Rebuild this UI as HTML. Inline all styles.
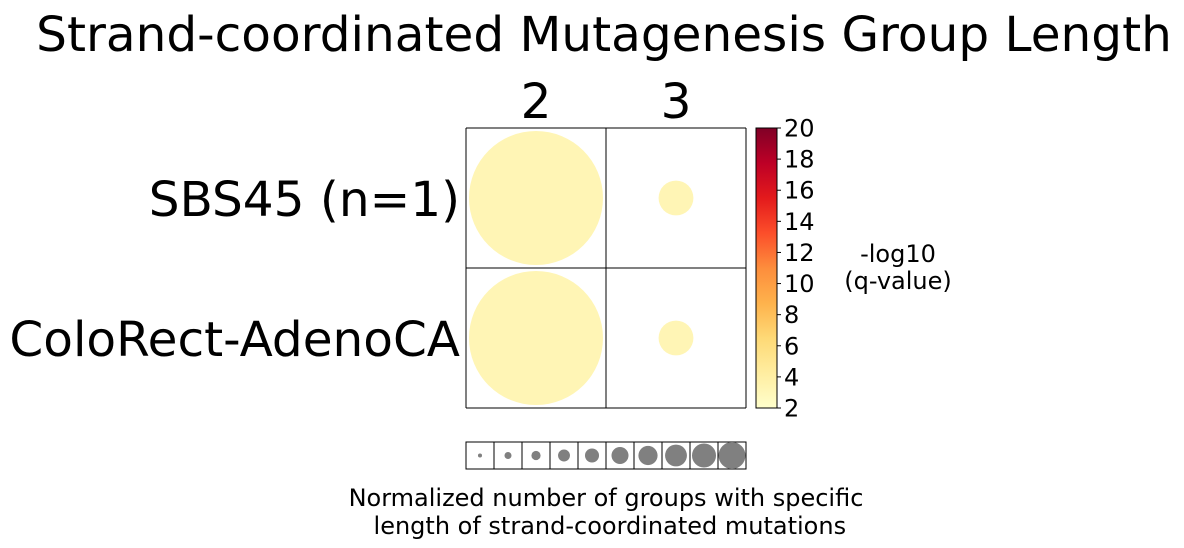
<!DOCTYPE html>
<html><head><meta charset="utf-8"><style>
html,body{margin:0;padding:0;background:#fff;}
svg{display:block;font-family:"DejaVu Sans","Liberation Sans",sans-serif;}
</style></head><body>
<svg id="chart" width="1184" height="548" viewBox="0 0 1184 548">
<defs>
<linearGradient id="ylorrd" x1="0" y1="1" x2="0" y2="0">
<stop offset="0" stop-color="#ffffcc"/><stop offset="0.125" stop-color="#ffeda0"/>
<stop offset="0.25" stop-color="#fed976"/><stop offset="0.375" stop-color="#feb24c"/>
<stop offset="0.5" stop-color="#fd8d3c"/><stop offset="0.625" stop-color="#fc4e2a"/>
<stop offset="0.75" stop-color="#e31a1c"/><stop offset="0.875" stop-color="#bd0026"/>
<stop offset="1" stop-color="#800026"/>
</linearGradient>
</defs>
<text x="604" y="51" font-size="48.5" text-anchor="middle">Strand-coordinated Mutagenesis Group Length</text>
<g id="grid"></g>
<g id="cbar"></g>
<g id="legend"></g>
<text x="898" y="262" font-size="24" text-anchor="middle"><tspan x="898">-log10</tspan><tspan x="898" dy="27">(q-value)</tspan></text>
<text x="606" y="506" font-size="24" text-anchor="middle"><tspan x="606">Normalized number of groups with specific</tspan><tspan x="606" dy="28"> length of strand-coordinated mutations</tspan></text>
</svg>
<script>
const columns = ["2","3"];
const rows = ["SBS45 (n=1)","ColoRect-AdenoCA"];
const sizeValues = [[1.0,0.26],[1.0,0.26]];
const qValues = [[3.2,3.2],[3.2,3.2]];
const cbarTicks = [2,4,6,8,10,12,14,16,18,20];
const legendSizes = [0.15,0.26,0.34,0.44,0.52,0.63,0.71,0.81,0.89,1.0];

const NS="http://www.w3.org/2000/svg";
function mk(tag,attrs,parent,txt){const e=document.createElementNS(NS,tag);for(const k in attrs)e.setAttribute(k,attrs[k]);if(txt!==undefined)e.textContent=txt;parent.appendChild(e);return e;}
const gx=466, gy=128, cell=140, maxR=67;
const cmin=2,cmax=20;
const stops=[[255,255,204],[255,237,160],[254,217,118],[254,178,76],[253,141,60],[252,78,42],[227,26,28],[189,0,38],[128,0,38]];
function color(v){let t=(v-cmin)/(cmax-cmin);t=Math.max(0,Math.min(1,t))*8;const i=Math.min(7,Math.floor(t)),f=t-i;const a=stops[i],b=stops[i+1];return `rgb(${a.map((c,j)=>Math.round(c+(b[j]-c)*f)).join(',')})`;}
const grid=document.getElementById('grid');
rows.forEach((r,ri)=>{
  const t=mk('text',{x:460,y:gy+ri*cell+88,'font-size':48.5,'text-anchor':'end'},grid,r);
  
  
  columns.forEach((c,ci)=>{
    const cx=gx+ci*cell+cell/2, cy=gy+ri*cell+cell/2;
    const circ=mk('circle',{cx:cx,cy:cy,r:maxR*sizeValues[ri][ci],fill:color(qValues[ri][ci])},grid);
    
    
  });
});
columns.forEach((c,ci)=>{
  const t=mk('text',{x:gx+ci*cell+cell/2,y:118,'font-size':48.5,'text-anchor':'middle'},grid,c);
  
  
});
for(let i=0;i<=columns.length;i++){mk('line',{x1:gx+i*cell,y1:gy,x2:gx+i*cell,y2:gy+rows.length*cell,stroke:'#000','stroke-width':1},grid);}
for(let i=0;i<=rows.length;i++){mk('line',{x1:gx,y1:gy+i*cell,x2:gx+columns.length*cell,y2:gy+i*cell,stroke:'#000','stroke-width':1},grid);}
const cb=document.getElementById('cbar');
const cbx=756,cby=128,cbw=21,cbh=280;
const rect=mk('rect',{x:cbx,y:cby,width:cbw,height:cbh,fill:'url(#ylorrd)',stroke:'#000','stroke-width':1},cb);


cbarTicks.forEach(v=>{
  const y=cby+cbh-(v-cmin)/(cmax-cmin)*cbh;
  mk('line',{x1:cbx+cbw,y1:y,x2:cbx+cbw+4,y2:y,stroke:'#000'},cb);
  const t=mk('text',{x:cbx+cbw+7,y:y+8.5,'font-size':24},cb,String(v));
  
  
});
const lg=document.getElementById('legend');
const lx=466,ly=442,lw=28,lh=27;
legendSizes.forEach((s,i)=>{
  mk('rect',{x:lx+i*lw,y:ly,width:lw,height:lh,fill:'none',stroke:'#000','stroke-width':1},lg);
  const c=mk('circle',{cx:lx+i*lw+lw/2,cy:ly+lh/2,r:13.5*s,fill:'#808080'},lg);
  
  
});
</script>
</body></html>
